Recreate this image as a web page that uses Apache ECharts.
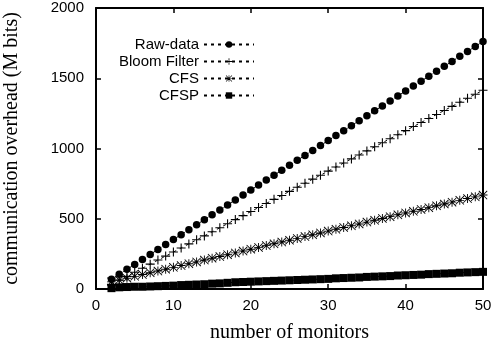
<!DOCTYPE html>
<html><head><meta charset="utf-8">
<script src="https://cdn.jsdelivr.net/npm/echarts@6/dist/echarts.min.js"></script>
<style>html,body{margin:0;padding:0;background:#fff}#c{width:493px;height:347px}</style>
</head><body><div id="c"></div>
<script>
const monitors = [2,3,4,5,6,7,8,9,10,11,12,13,14,15,16,17,18,19,20,21,22,23,24,25,26,27,28,29,30,31,32,33,34,35,36,37,38,39,40,41,42,43,44,45,46,47,48,49,50];
const rawData = [70,105,140,175,210,246,281,316,352,387,422,458,493,528,563,598,634,669,704,740,775,810,845,880,916,951,986,1021,1057,1092,1127,1162,1198,1233,1268,1303,1338,1374,1409,1444,1479,1515,1550,1585,1620,1656,1691,1726,1762];
const bloomFilter = [33,62,90,119,148,177,206,234,263,292,321,350,378,407,436,465,494,522,551,580,609,638,666,695,724,753,782,810,839,868,897,926,954,983,1012,1041,1070,1098,1127,1156,1185,1214,1242,1271,1300,1329,1358,1386,1415];
const cfs = [51,64,77,90,103,116,128,141,154,167,180,193,206,219,231,244,257,270,283,296,309,322,334,347,360,373,386,399,412,425,438,450,463,476,489,502,515,528,541,553,566,579,592,605,618,631,644,656,669];
const cfsp = [6,12,14,16,16,18,20,22,24,28,30,32,34,38,40,44,48,50,52,54,56,58,60,62,64,66,68,70,72,76,78,80,82,86,88,90,92,96,98,100,102,106,108,110,112,116,118,120,122];
const seriesNames = ['Raw-data','Bloom Filter','CFS','CFSP'];
const xTicks = {min:0, max:50, interval:10};
const yTicks = {min:0, max:2000, interval:500};

const plusPath = 'path://M4.4,0H5.6V4.4H10V5.6H5.6V10H4.4V5.6H0V4.4H4.4Z';
const starPath = 'path://M4.5,0H5.5V10H4.5Z M0,4.5H10V5.5H0Z M0.7,0L10,9.3L9.3,10L0,0.7Z M9.3,0L10,0.7L0.7,10L0,9.3Z';

function pairs(ys){ return monitors.map((x,i)=>[x, ys[i]]); }
const symbols = ['circle', plusPath, starPath, 'rect'];
const sizes = [7.5, 9, 9, 8];
const dataSets = [rawData, bloomFilter, cfs, cfsp];

const chart = echarts.init(document.getElementById('c'), null, {renderer:'canvas'});
const sans = 'Liberation Sans, Arial, sans-serif';
const serif = 'Liberation Serif, Times New Roman, serif';
const axisCommon = {
  axisLine:{show:true, onZero:false, lineStyle:{color:'#000', width:2}},
  axisTick:{show:true, inside:true, length:5, lineStyle:{color:'#000', width:1.5}},
  splitLine:{show:false}
};
const plain = v => String(v);
chart.setOption({
  animation:false,
  grid:{left:96, right:10, top:8, bottom:58, containLabel:false, outerBoundsMode:'none'},
  xAxis:[
    Object.assign({type:'value', position:'bottom', min:xTicks.min, max:xTicks.max, interval:xTicks.interval,
      name:'number of monitors', nameLocation:'middle', nameGap:34,
      nameTextStyle:{fontFamily:serif, fontSize:20, color:'#000'},
      axisLabel:{fontFamily:sans, fontSize:15, color:'#000', margin:9, formatter:plain}}, axisCommon),
    Object.assign({type:'value', position:'top', min:xTicks.min, max:xTicks.max, interval:xTicks.interval,
      axisLabel:{show:false}}, axisCommon)
  ],
  yAxis:[
    Object.assign({type:'value', position:'left', min:yTicks.min, max:yTicks.max, interval:yTicks.interval,
      name:'communication overhead (M bits)', nameLocation:'middle', nameGap:74,
      nameTextStyle:{fontFamily:serif, fontSize:20, color:'#000'},
      axisLabel:{fontFamily:sans, fontSize:15, color:'#000', margin:12, formatter:plain}}, axisCommon),
    Object.assign({type:'value', position:'right', min:yTicks.min, max:yTicks.max, interval:yTicks.interval,
      axisLabel:{show:false}}, axisCommon)
  ],
  legend:{
    orient:'vertical', align:'right', right:238, top:37, padding:0,
    itemWidth:50, itemHeight:8, itemGap:2,
    textStyle:{fontFamily:sans, fontSize:15, color:'#000'},
    data:seriesNames
  },
  series: seriesNames.map((n,i)=>({
    name:n, type:'line', xAxisIndex:0, yAxisIndex:0,
    data:pairs(dataSets[i]),
    symbol:symbols[i], symbolSize:sizes[i], showAllSymbol:true,
    itemStyle:{color:'#000'},
    lineStyle:{color:'#000', width:1, type:[3,4]},
    z: 2+i
  }))
});
</script></body></html>
